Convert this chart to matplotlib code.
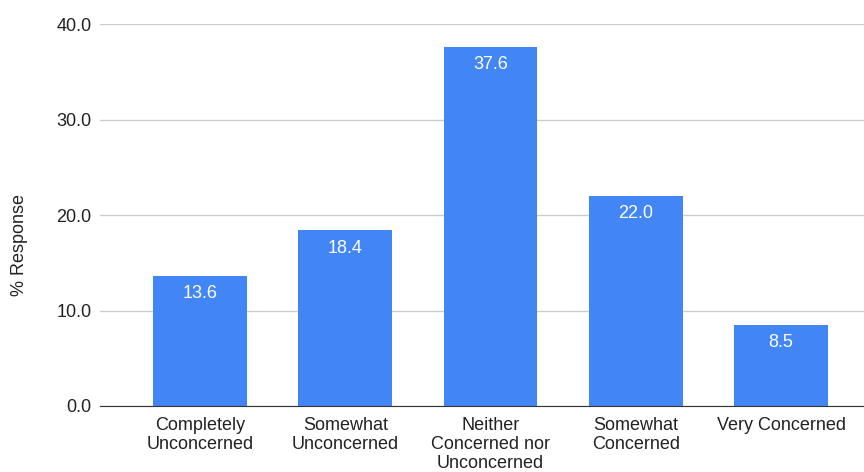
import matplotlib
matplotlib.use('Agg')
import matplotlib.pyplot as plt
import numpy as np

plt.rcParams.update({'font.family': 'Liberation Sans', 'font.size': 13})

BLUE = '#4285f4'

categories = ['Completely\nUnconcerned', 'Somewhat\nUnconcerned',
              'Neither\nConcerned nor\nUnconcerned', 'Somewhat\nConcerned',
              'Very Concerned']
values = [13.6, 18.4, 37.6, 22.0, 8.5]
yticks = [0, 10, 20, 30, 40]

fig = plt.figure(figsize=(8.64, 4.72), dpi=100)
ax = fig.add_axes([100 / 864, 66 / 472, 764 / 864, 382 / 472])

x = np.arange(len(categories))
ax.bar(x, values, width=0.647, color=BLUE, zorder=2)
for xi, v in zip(x, values):
    ax.annotate(f"{v:.1f}", (xi, v), xytext=(0, -16), textcoords='offset points',
                ha='center', va='baseline', color='white', fontsize=13)

ax.set_xlim(-0.688, 4.571)
ax.set_ylim(0, 40)
ax.set_yticks(yticks)
ax.set_yticklabels([f"{t:.1f}" for t in yticks], color='#222222')
ax.set_xticks(x)
ax.set_xticklabels(categories, color='#222222', linespacing=1.14)
ax.tick_params(length=0)
ax.tick_params(axis='y', pad=6)
ax.tick_params(axis='x', pad=8)
ax.grid(axis='y', color='#cccccc', linewidth=1, zorder=0)
for s in ['top', 'right', 'left']:
    ax.spines[s].set_visible(False)
ax.spines['bottom'].set_color('#333333')
ax.spines['bottom'].set_zorder(3)
fig.text(20 / 864, 1 - 245 / 472, '% Response', rotation=90,
         ha='center', va='center', color='#222222', fontsize=13)

fig.savefig('out.png', dpi=100)
